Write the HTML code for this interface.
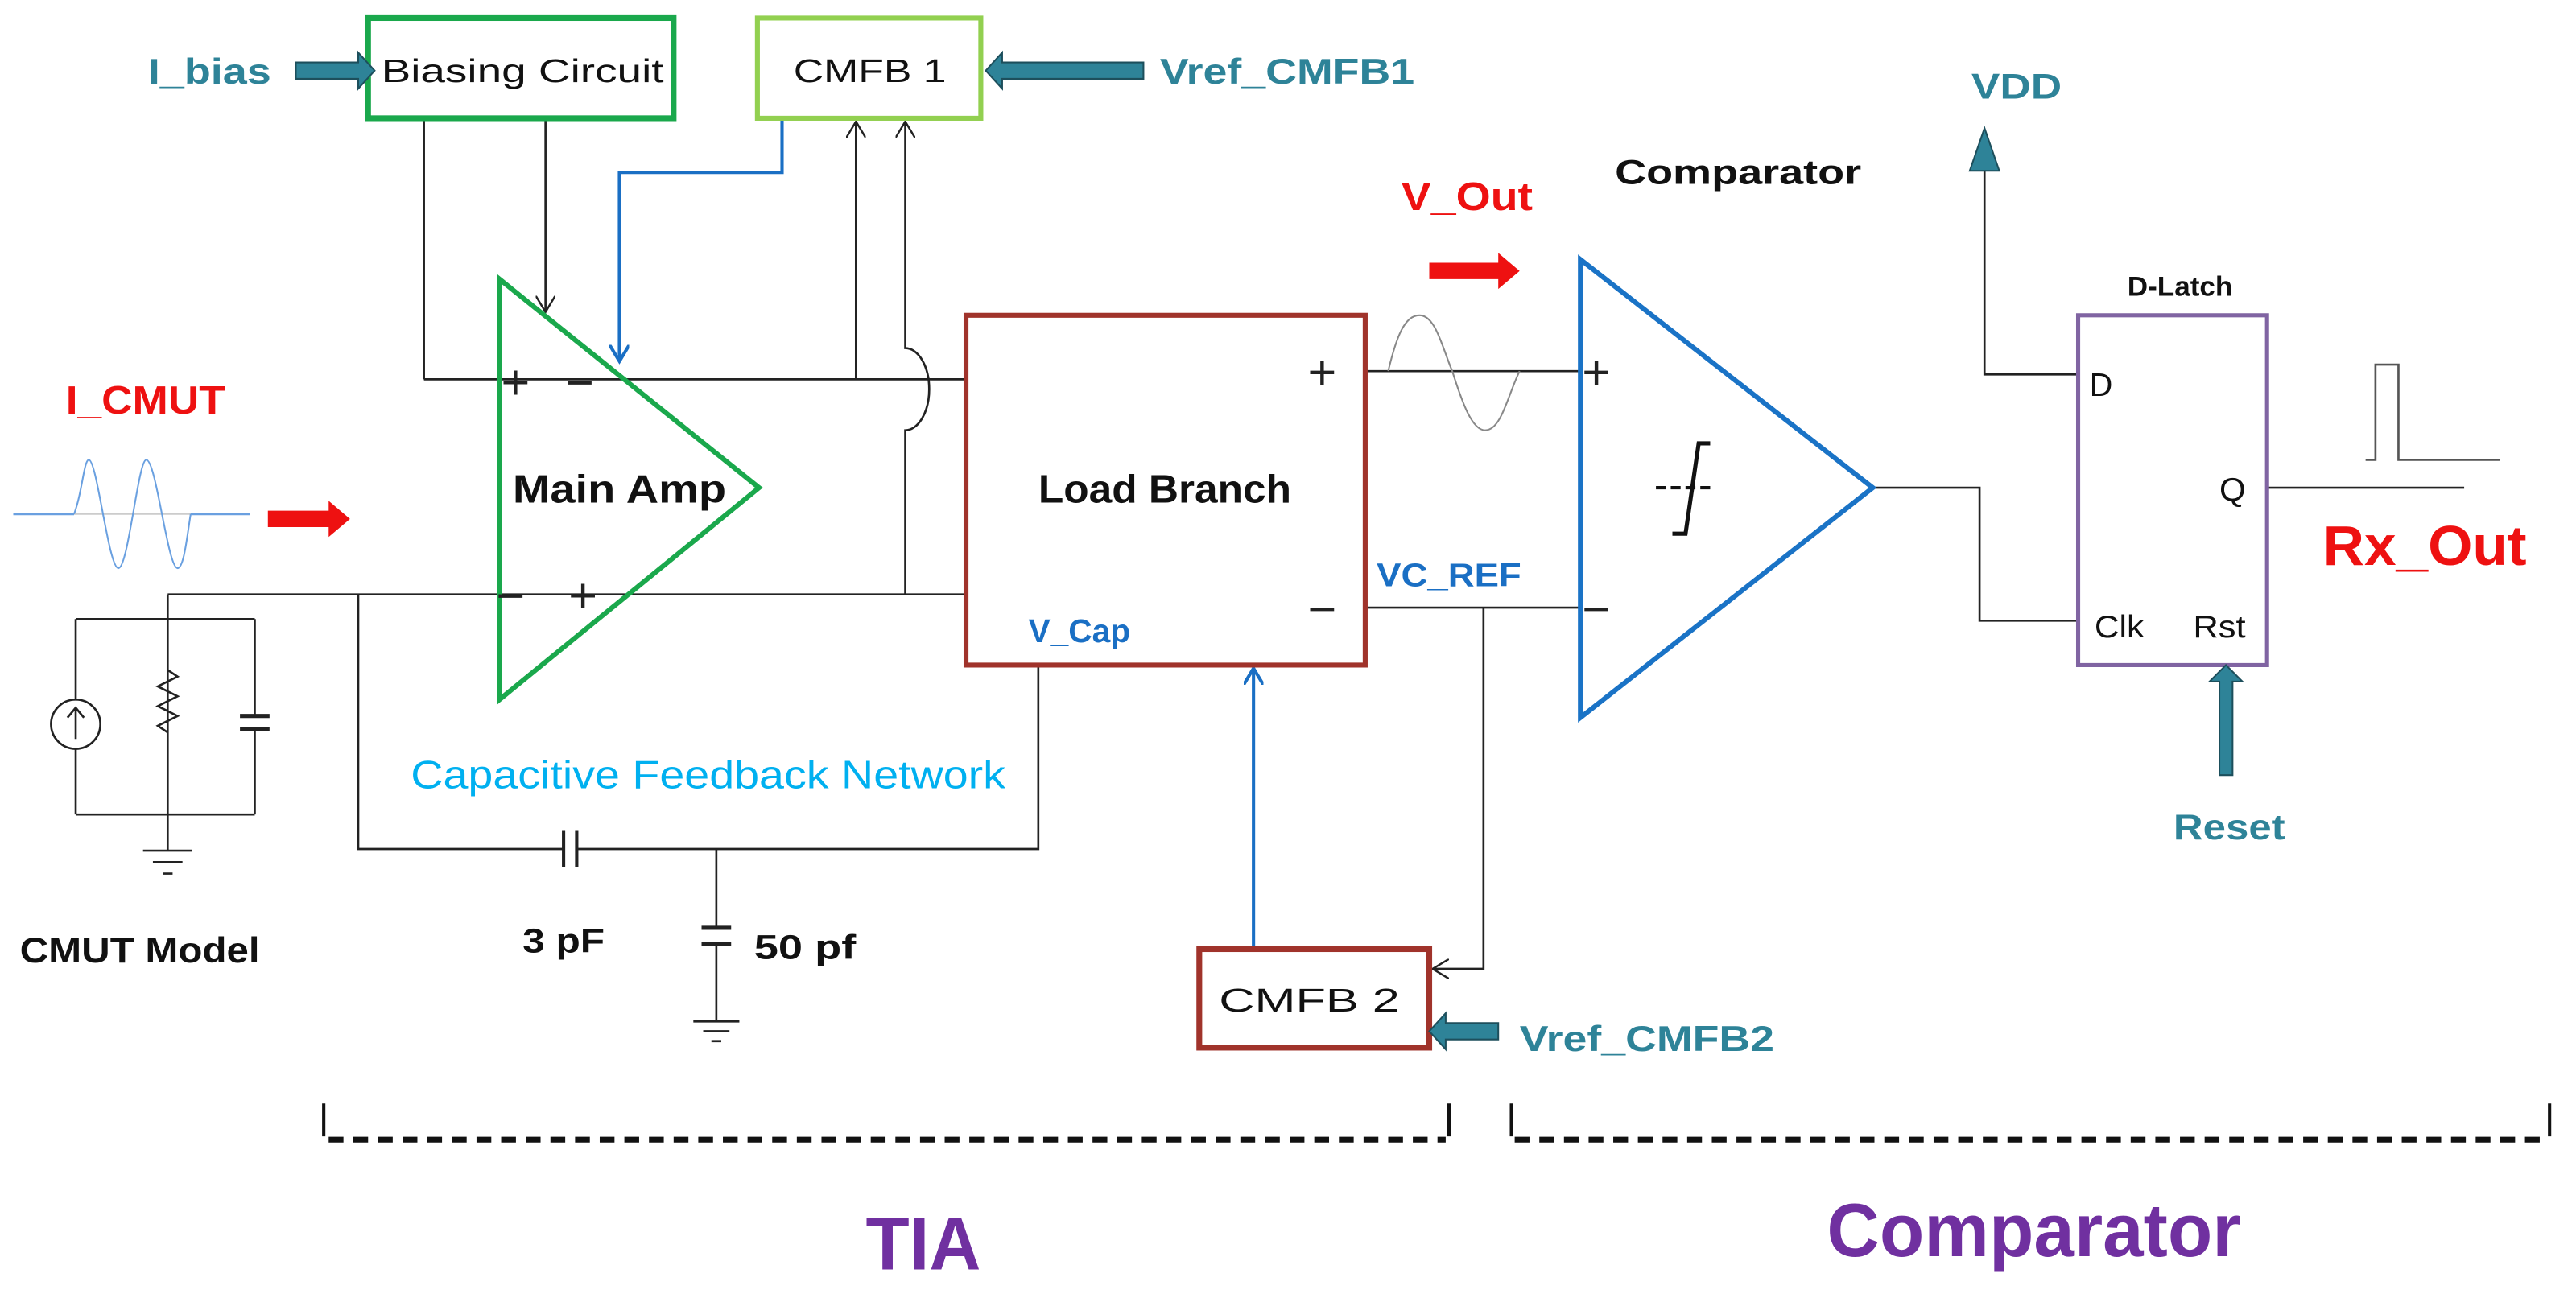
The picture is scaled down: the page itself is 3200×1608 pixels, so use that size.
<!DOCTYPE html>
<html><head><meta charset="utf-8"><style>html,body{margin:0;padding:0;background:#fff}svg{display:block}</style></head>
<body>
<svg width="3200" height="1608" viewBox="0 0 1568 788" xmlns="http://www.w3.org/2000/svg" font-family="Liberation Sans, sans-serif">
<defs>
<marker id="oa" markerWidth="12" markerHeight="12" refX="10" refY="6" orient="auto" markerUnits="userSpaceOnUse"><path d="M0,0 L10,6 L0,12" fill="none" stroke="#222" stroke-width="1.2"/></marker>
<marker id="ba" markerWidth="12" markerHeight="12" refX="10" refY="6" orient="auto" markerUnits="userSpaceOnUse"><path d="M0,0 L10,6 L0,12" fill="none" stroke="#1a6fc4" stroke-width="2"/></marker>
</defs>
<rect width="1568" height="788" fill="#fff"/>
<g stroke="#222" stroke-width="1.3" fill="none">
<path d="M258,231 H588"/>
<path d="M102,362 H588"/>
<path d="M258,72 V231"/>
<path d="M332,72 V190" marker-end="url(#oa)"/>
<path d="M521,231 V74" marker-end="url(#oa)"/>
<path d="M551,362 V262 A14,24 0 0 0 551,212 V74" marker-end="url(#oa)"/>
<path d="M102,362 V518"/>
<path d="M46,377 H155 M46,496 H155 M46,377 V426 M46,456 V496 M155,377 V436 M155,444 V496"/>
<path d="M102,408 l6,4 l-12,6 l12,6 l-12,6 l12,6 l-12,6 l6,4"/>
<circle cx="46" cy="441" r="15"/>
<path d="M46,450 V432 M41,437 L46,431 L51,437"/>
<path d="M87,518 H117 M93,525 H111 M99,532 H105"/>
<path d="M146,436 H164 M146,444 H164" stroke-width="2.5"/>
<path d="M218,362 V517 H343 M351,517 H632 V405"/>
<path d="M343,506 V528 M351,506 V528" stroke-width="2"/>
<path d="M436,517 V565 M436,575 V622"/>
<path d="M427,565 H445 M427,575 H445" stroke-width="2.5"/>
<path d="M422,622 H450 M428,628 H444 M433,634 H439"/>
<path d="M831,226 H962 M831,370 H962"/>
<path d="M903,370 V590 H872" marker-end="url(#oa)"/>
<path d="M1140,297 H1205 V378 H1265"/>
<path d="M1265,228 H1208 V100"/>
<path d="M1380,297 H1500"/>
<path d="M1440,280 H1446 V222 H1460 V280 H1522" stroke="#555"/>
</g>
<path d="M8,313 H45 M116,313 H152" stroke="#6aa0e0" stroke-width="1.5"/>
<path d="M45,313 H116" stroke="#ccc" stroke-width="1"/>
<path d="M45,313 C50,300 51,280 54,280 C59,280 66,346 72,346 C78,346 84,280 89,280 C95,280 102,346 108,346 C112,346 114,325 116,313" stroke="#6aa0e0" stroke-width="1" fill="none"/>
<path d="M845,226 C850,205 855,192 864,192 C874,192 878,212 884,226 C890,245 896,262 904,262 C914,262 918,240 925,226" stroke="#888" stroke-width="1" fill="none"/>
<path d="M476,72 V105 H377 V220" stroke="#1a6fc4" stroke-width="2" fill="none" marker-end="url(#ba)"/>
<path d="M763,578 V407" stroke="#1a6fc4" stroke-width="2" fill="none" marker-end="url(#ba)"/>
<rect x="224" y="11" width="186" height="61" fill="#fff" stroke="#1aa84c" stroke-width="3.5"/>
<rect x="461" y="11" width="136" height="61" fill="#fff" stroke="#92d050" stroke-width="3"/>
<rect x="588" y="192" width="243" height="213" fill="none" stroke="#a0332b" stroke-width="3"/>
<rect x="730" y="578" width="140" height="60" fill="#fff" stroke="#a0332b" stroke-width="3.5"/>
<rect x="1265" y="192" width="115" height="213" fill="none" stroke="#8064a2" stroke-width="2.5"/>
<polygon points="304,170 304,426 462,297" fill="none" stroke="#1aa84c" stroke-width="3"/>
<polygon points="962,158 962,437 1140,297" fill="none" stroke="#1a73c6" stroke-width="3"/>
<path d="M1018,325 H1026 L1034,270 H1041" stroke="#111" stroke-width="2.5" fill="none"/>
<path d="M1008,297 H1042" stroke="#111" stroke-width="2" stroke-dasharray="6,3" fill="none"/>
<g fill="#2e8398" stroke="#1d4f5c" stroke-width="1">
<path d="M180,38 H218 V32 L228,43 L218,54 V48 H180 Z"/>
<path d="M696,38 H610 V32 L600,43 L610,54 V48 H696 Z"/>
<path d="M912,623 H880 V617 L870,628 L880,639 V633 H912 Z"/>
<path d="M1351,472 V415 H1345 L1355,405 L1365,415 H1359 V472 Z"/>
<path d="M1208,78 L1199,104 H1217 Z"/>
</g>
<path d="M163,311 H200 V305 L213,316 L200,327 V321 H163 Z" fill="#ee1111"/>
<path d="M870,160 H912 V154 L925,165 L912,176 V170 H870 Z" fill="#ee1111"/>
<g stroke="#111" stroke-width="3.5" fill="none">
<path d="M197,672 V692 M882,672 V692 M920,672 V692 M1552,672 V692" stroke-width="2"/>
<path d="M200,694 H880 M922,694 H1550" stroke-dasharray="9,6"/>
</g>
<g font-size="20" fill="#111">
<text x="232" y="50" textLength="172" lengthAdjust="spacingAndGlyphs">Biasing Circuit</text>
<text x="483" y="50" textLength="93" lengthAdjust="spacingAndGlyphs">CMFB 1</text>
<text x="742" y="616" textLength="110" lengthAdjust="spacingAndGlyphs">CMFB 2</text>
<text x="1272" y="241" font-size="20" textLength="14" lengthAdjust="spacingAndGlyphs">D</text>
<text x="1351" y="305" font-size="20" textLength="16" lengthAdjust="spacingAndGlyphs">Q</text>
<text x="1275" y="388" font-size="19" textLength="30" lengthAdjust="spacingAndGlyphs">Clk</text>
<text x="1335" y="388" font-size="19" textLength="32" lengthAdjust="spacingAndGlyphs">Rst</text>
</g>
<g font-size="30" fill="#222">
<text x="305" y="243">+</text><text x="344" y="243">−</text>
<text x="302" y="373">−</text><text x="346" y="373">+</text>
<text x="796" y="237">+</text><text x="796" y="381">−</text>
<text x="963" y="237">+</text><text x="963" y="381">−</text>
</g>
<g font-weight="bold" fill="#111">
<text x="312" y="306" font-size="24" textLength="130" lengthAdjust="spacingAndGlyphs">Main Amp</text>
<text x="632" y="306" font-size="24" textLength="154" lengthAdjust="spacingAndGlyphs">Load Branch</text>
<text x="983" y="112" font-size="21" textLength="150" lengthAdjust="spacingAndGlyphs">Comparator</text>
<text x="1295" y="180" font-size="17" textLength="64" lengthAdjust="spacingAndGlyphs">D-Latch</text>
<text x="12" y="586" font-size="22" textLength="146" lengthAdjust="spacingAndGlyphs">CMUT Model</text>
<text x="318" y="580" font-size="21" textLength="50" lengthAdjust="spacingAndGlyphs">3 pF</text>
<text x="459" y="584" font-size="21" textLength="62" lengthAdjust="spacingAndGlyphs">50 pf</text>
</g>
<g font-weight="bold" fill="#2e8398">
<text x="90" y="51" font-size="22" textLength="75" lengthAdjust="spacingAndGlyphs">I_bias</text>
<text x="706" y="51" font-size="22" textLength="155" lengthAdjust="spacingAndGlyphs">Vref_CMFB1</text>
<text x="925" y="640" font-size="22" textLength="155" lengthAdjust="spacingAndGlyphs">Vref_CMFB2</text>
<text x="1200" y="60" font-size="22" textLength="55" lengthAdjust="spacingAndGlyphs">VDD</text>
<text x="1323" y="511" font-size="22" textLength="68" lengthAdjust="spacingAndGlyphs">Reset</text>
</g>
<g font-weight="bold" fill="#ee1111">
<text x="40" y="252" font-size="24" textLength="97" lengthAdjust="spacingAndGlyphs">I_CMUT</text>
<text x="853" y="128" font-size="24" textLength="80" lengthAdjust="spacingAndGlyphs">V_Out</text>
<text x="1414" y="344" font-size="34" textLength="124" lengthAdjust="spacingAndGlyphs">Rx_Out</text>
</g>
<g fill="#1a6fc4" font-weight="bold">
<text x="626" y="391" font-size="20" textLength="62" lengthAdjust="spacingAndGlyphs">V_Cap</text>
<text x="838" y="357" font-size="20" textLength="88" lengthAdjust="spacingAndGlyphs">VC_REF</text>
</g>
<text x="250" y="480" font-size="24" fill="#00b0f0" textLength="362" lengthAdjust="spacingAndGlyphs">Capacitive Feedback Network</text>
<g font-weight="bold" fill="#7030a0">
<text x="527" y="773" font-size="46" textLength="70" lengthAdjust="spacingAndGlyphs">TIA</text>
<text x="1112" y="765" font-size="46" textLength="252" lengthAdjust="spacingAndGlyphs">Comparator</text>
</g>
</svg>
</body></html>
